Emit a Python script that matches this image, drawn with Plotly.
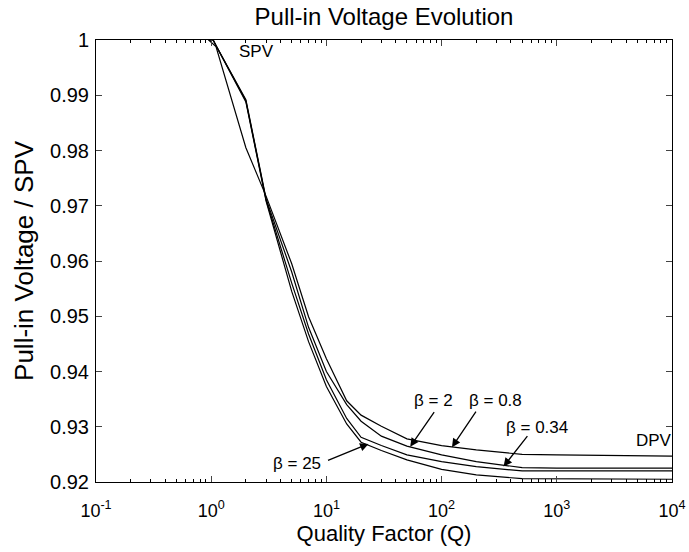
import numpy as np
import plotly.graph_objects as go

# quality factor samples (shared by all curves)
q = [0.95, 1.04, 1.1, 2, 3, 5, 7, 10, 15, 20, 30, 50, 100, 200, 500, 1000, 10000]

# normalised pull-in voltage for each beta
beta_08 = [1.0, 0.9993, 0.9988, 0.9805, 0.9717, 0.9595, 0.9499, 0.9423, 0.9347, 0.9321, 0.9301, 0.9278, 0.9266, 0.9258, 0.9250, 0.9249, 0.9247]
beta_2 = [1.0, 1.0, 0.9990, 0.9892, 0.9712, 0.9580, 0.9480, 0.9400, 0.9340, 0.9310, 0.9283, 0.9265, 0.9249, 0.9237, 0.9226, 0.9225, 0.9225]
beta_034 = [1.0, 1.0, 0.9990, 0.9890, 0.9710, 0.9560, 0.9468, 0.9385, 0.9315, 0.9281, 0.9266, 0.9249, 0.9237, 0.9228, 0.9220, 0.9220, 0.9220]
beta_25 = [1.0, 1.0, 0.9990, 0.9888, 0.9708, 0.9545, 0.9454, 0.9373, 0.9305, 0.9272, 0.9257, 0.9240, 0.9223, 0.9213, 0.9206, 0.9206, 0.9205]

x_ticks = [0.1, 1, 10, 100, 1000, 10000]
x_ticktext = ['10<sup>-1</sup>', '10<sup>0</sup>', '10<sup>1</sup>', '10<sup>2</sup>', '10<sup>3</sup>', '10<sup>4</sup>']
y_ticks = [0.92, 0.93, 0.94, 0.95, 0.96, 0.97, 0.98, 0.99, 1.0]
y_ticktext = ['0.92', '0.93', '0.94', '0.95', '0.96', '0.97', '0.98', '0.99', '1']

# plain text labels (Q, value)
text_labels = ['SPV', 'DPV']
text_q = [2.45, 7000]
text_v = [0.9980, 0.9276]

# beta labels with arrows: label position, arrow head position, arrow tail offset (px)
beta_labels = ['β = 2', 'β = 0.8', 'β = 0.34', 'β = 25']
beta_label_q = [84.5, 292, 676, 5.58]
beta_label_v = [0.9348, 0.9348, 0.9299, 0.9234]
arrow_q = [53.4, 123, 345, 23.2]
arrow_v = [0.9264, 0.9263, 0.9228, 0.9269]
arrow_dx = [25, 25, 25, -42]
arrow_dy = [-36, -37, -32, 17]

font = 'Liberation Sans, Arial, sans-serif'

fig = go.Figure()
for name, vals in [('β = 0.8', beta_08), ('β = 2', beta_2), ('β = 0.34', beta_034), ('β = 25', beta_25)]:
	fig.add_trace(go.Scatter(x=q, y=vals, mode='lines', name=name, line=dict(color='black', width=1.2)))

annotations = []
for t, xq, yv in zip(text_labels + beta_labels, text_q + beta_label_q, text_v + beta_label_v):
	annotations.append(dict(x=np.log10(xq), y=yv, text=t, showarrow=False, font=dict(size=17, color='black')))
for xq, yv, dx, dy in zip(arrow_q, arrow_v, arrow_dx, arrow_dy):
	annotations.append(dict(x=np.log10(xq), y=yv, text='', showarrow=True, ax=dx, ay=dy,
		arrowhead=2, arrowsize=1.3, arrowwidth=1.3, arrowcolor='black'))

minor_x = [k * 10.0 ** d for d in range(-1, 4) for k in range(2, 10)]

fig.update_layout(
	width=689, height=552,
	margin=dict(l=96, r=17, t=40, b=70),
	paper_bgcolor='white', plot_bgcolor='white',
	font=dict(family=font, color='black'),
	showlegend=False,
	title=dict(text='Pull-in Voltage Evolution', x=0.5, xref='paper', y=1 - 17 / 552, yref='container',
		yanchor='middle', font=dict(size=24)),
	annotations=annotations,
	xaxis=dict(type='log', range=[-1, 4], tickvals=x_ticks, ticktext=x_ticktext, ticks='inside', ticklen=6,
		showline=True, linecolor='black', linewidth=1, mirror='allticks', showgrid=False, zeroline=False,
		tickfont=dict(size=18), ticklabelstandoff=12, automargin=False,
		minor=dict(tickvals=minor_x, ticks='inside', ticklen=3, tickcolor='black', showgrid=False),
		title=dict(text='Quality Factor (Q)', font=dict(size=22), standoff=6)),
	yaxis=dict(range=[0.92, 1.0], tickvals=y_ticks, ticktext=y_ticktext, ticks='inside', ticklen=6,
		showline=True, linecolor='black', linewidth=1, mirror='allticks', showgrid=False, zeroline=False,
		tickfont=dict(size=20), ticklabelstandoff=2, automargin=False,
		title=dict(text='Pull-in Voltage / SPV', font=dict(size=26), standoff=8)),
)

# drop the default page margin so the figure fills the window
fig.write_html('out.html', config={'displayModeBar': False},
	post_script="document.body.style.margin='0';document.body.style.overflow='hidden';")
